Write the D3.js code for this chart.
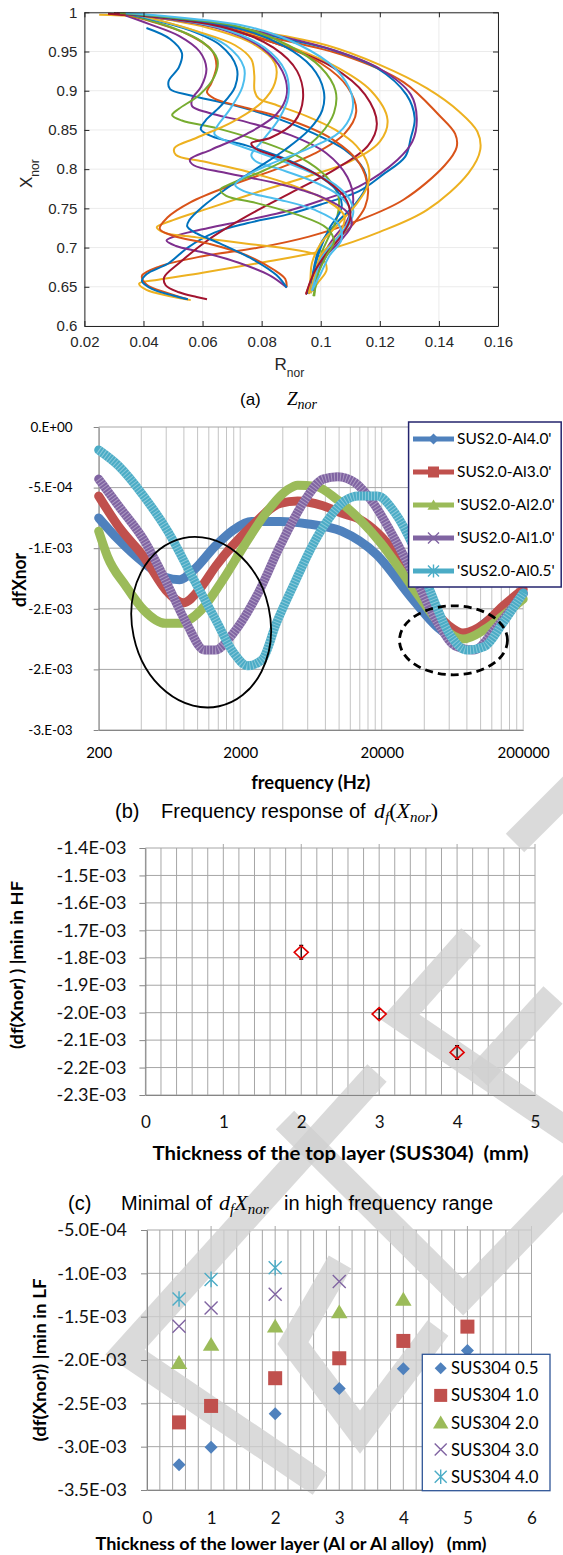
<!DOCTYPE html>
<html>
<head>
<meta charset="utf-8">
<script src="https://cdn.jsdelivr.net/npm/d3@7"></script>
<style>
  body { margin: 0; background: #fff; }
  svg { display: block; }
  text { white-space: pre; }
</style>
</head>
<body>
<script>
// ===== (a) Znor trajectories, points are [Rnor, Xnor] =====
var zY1 = [[0.025,0.997],[0.049,0.992],[0.08,0.975],[0.102,0.958],[0.12,0.933],[0.136,0.903],[0.147,0.873],[0.153,0.848],[0.154,0.825],[0.150,0.795],[0.136,0.748],[0.12,0.72],[0.102,0.697],[0.08,0.681],[0.06,0.668],[0.045,0.659],[0.0385,0.654],[0.041,0.646],[0.049,0.638],[0.056,0.633]];
var zO1 = [[0.028,0.998],[0.055,0.99],[0.079,0.971],[0.107,0.946],[0.128,0.911],[0.14,0.869],[0.1455,0.845],[0.146,0.828],[0.142,0.805],[0.128,0.761],[0.113,0.735],[0.096,0.714],[0.079,0.70],[0.06,0.689],[0.0455,0.676],[0.0395,0.664],[0.041,0.653],[0.048,0.642],[0.055,0.634]];
var zB1 = [[0.030,0.998],[0.06,0.988],[0.087,0.967],[0.104,0.952],[0.119,0.929],[0.129,0.895],[0.1318,0.865],[0.1305,0.84],[0.1286,0.816],[0.121,0.793],[0.113,0.772],[0.1,0.755],[0.0885,0.742],[0.075,0.731],[0.064,0.719],[0.055,0.70],[0.0485,0.68],[0.041,0.666],[0.0395,0.657],[0.043,0.647],[0.05,0.639],[0.055,0.634]];
var zP1 = [[0.031,0.998],[0.06,0.988],[0.088,0.968],[0.105,0.951],[0.12,0.928],[0.1305,0.895],[0.1325,0.865],[0.131,0.835],[0.126,0.812],[0.113,0.778],[0.1,0.76],[0.09,0.748],[0.075,0.735],[0.062,0.725],[0.052,0.716],[0.0478,0.709],[0.051,0.702],[0.06,0.694],[0.072,0.681],[0.083,0.664],[0.0885,0.649]];
var zY2 = [[0.033,0.997],[0.06,0.985],[0.085,0.962],[0.104,0.933],[0.117,0.9],[0.1226,0.863],[0.12,0.835],[0.11,0.81],[0.095,0.79],[0.078,0.77],[0.062,0.75],[0.05,0.735],[0.0445,0.726],[0.047,0.719],[0.058,0.713],[0.075,0.705],[0.09,0.698],[0.1,0.688],[0.102,0.672],[0.099,0.655],[0.0965,0.642]];
var zR2 = [[0.028,0.998],[0.06,0.985],[0.085,0.96],[0.104,0.93],[0.115,0.895],[0.119,0.858],[0.116,0.83],[0.105,0.8],[0.09,0.77],[0.075,0.74],[0.062,0.71],[0.052,0.68],[0.047,0.662],[0.0475,0.652],[0.052,0.643],[0.058,0.637],[0.0615,0.634]];
var zO2 = [[0.032,0.998],[0.06,0.984],[0.085,0.96],[0.1,0.935],[0.109,0.905],[0.112,0.873],[0.108,0.845],[0.098,0.82],[0.085,0.8],[0.07,0.78],[0.056,0.758],[0.048,0.738],[0.0455,0.724],[0.05,0.715],[0.062,0.705],[0.075,0.69],[0.084,0.672],[0.088,0.66],[0.0885,0.65]];
var zB2 = [[0.041,0.98],[0.049,0.966],[0.053,0.948],[0.052,0.93],[0.0485,0.912],[0.049,0.902],[0.056,0.894],[0.07,0.882],[0.085,0.865],[0.098,0.845],[0.108,0.825],[0.1145,0.8],[0.1155,0.78],[0.112,0.757],[0.105,0.73],[0.1,0.705],[0.098,0.68],[0.097,0.66],[0.0955,0.641]];
var zP2 = [[0.034,0.996],[0.042,0.985],[0.052,0.97],[0.059,0.95],[0.0613,0.928],[0.0595,0.905],[0.0565,0.89],[0.0565,0.88],[0.062,0.872],[0.075,0.86],[0.09,0.843],[0.102,0.82],[0.109,0.79],[0.111,0.76],[0.109,0.735],[0.104,0.71],[0.1,0.685],[0.098,0.66],[0.096,0.641]];
var zO3 = [[0.035,0.996],[0.043,0.988],[0.055,0.972],[0.063,0.952],[0.0647,0.932],[0.063,0.91],[0.0615,0.898],[0.064,0.89],[0.075,0.878],[0.09,0.862],[0.104,0.838],[0.113,0.808],[0.116,0.775],[0.115,0.752],[0.111,0.73],[0.105,0.708],[0.1,0.685],[0.097,0.66],[0.095,0.641]];
var zG1 = [[0.033,0.999],[0.05,0.98],[0.06,0.962],[0.065,0.94],[0.064,0.918],[0.059,0.895],[0.052,0.877],[0.0497,0.869],[0.053,0.862],[0.065,0.852],[0.08,0.835],[0.093,0.815],[0.102,0.79],[0.106,0.765],[0.1055,0.738],[0.1025,0.712],[0.1,0.69],[0.099,0.665],[0.0975,0.638]];
var zB3 = [[0.036,0.997],[0.055,0.978],[0.066,0.958],[0.0715,0.93],[0.071,0.905],[0.066,0.88],[0.061,0.862],[0.0594,0.851],[0.063,0.842],[0.075,0.83],[0.09,0.81],[0.1,0.79],[0.106,0.77],[0.107,0.75],[0.103,0.725],[0.1,0.7],[0.098,0.675],[0.0965,0.655],[0.0955,0.641]];
var zC1 = [[0.037,0.997],[0.056,0.978],[0.068,0.958],[0.074,0.93],[0.0735,0.905],[0.069,0.875],[0.065,0.855],[0.064,0.845],[0.068,0.836],[0.08,0.82],[0.094,0.8],[0.105,0.78],[0.11,0.76],[0.111,0.744],[0.108,0.72],[0.103,0.7],[0.1,0.68],[0.098,0.66],[0.0965,0.642]];
var zY3 = [[0.038,0.997],[0.058,0.976],[0.071,0.958],[0.0765,0.94],[0.0775,0.92],[0.0776,0.9],[0.079,0.89],[0.084,0.883],[0.095,0.868],[0.105,0.85],[0.112,0.83],[0.116,0.805],[0.116,0.78],[0.112,0.755],[0.106,0.73],[0.1,0.705],[0.097,0.68],[0.0965,0.66],[0.096,0.641]];
var zY4 = [[0.036,0.998],[0.062,0.98],[0.077,0.96],[0.0845,0.935],[0.0845,0.91],[0.08,0.885],[0.07,0.86],[0.058,0.84],[0.0505,0.827],[0.051,0.818],[0.06,0.81],[0.075,0.797],[0.09,0.78],[0.102,0.76],[0.108,0.74],[0.106,0.715],[0.1,0.69],[0.098,0.665],[0.0965,0.642]];
var zP3 = [[0.031,0.999],[0.065,0.98],[0.08,0.955],[0.087,0.925],[0.0885,0.895],[0.085,0.87],[0.075,0.845],[0.063,0.825],[0.0557,0.812],[0.057,0.805],[0.068,0.795],[0.085,0.782],[0.1,0.765],[0.109,0.745],[0.1105,0.73],[0.107,0.71],[0.102,0.69],[0.099,0.668],[0.0975,0.645]];
var zC2 = [[0.035,0.998],[0.066,0.98],[0.081,0.955],[0.088,0.925],[0.089,0.892],[0.086,0.865],[0.08,0.835],[0.0765,0.818],[0.078,0.81],[0.086,0.8],[0.097,0.785],[0.106,0.767],[0.11,0.748],[0.1085,0.727],[0.104,0.705],[0.1,0.685],[0.0985,0.665],[0.097,0.645]];
var zR3 = [[0.030,0.999],[0.068,0.98],[0.084,0.955],[0.092,0.925],[0.094,0.89],[0.091,0.86],[0.083,0.84],[0.0765,0.833],[0.078,0.826],[0.088,0.812],[0.1,0.79],[0.108,0.765],[0.11,0.738],[0.107,0.715],[0.102,0.693],[0.098,0.67],[0.096,0.652],[0.095,0.64]];
var zB4 = [[0.034,0.998],[0.07,0.982],[0.087,0.958],[0.097,0.93],[0.101,0.9],[0.1005,0.875],[0.096,0.85],[0.088,0.825],[0.078,0.8],[0.068,0.775],[0.06,0.752],[0.0555,0.735],[0.0548,0.727],[0.058,0.718],[0.066,0.705],[0.077,0.685],[0.085,0.665],[0.0885,0.649]];
var zG2 = [[0.032,0.999],[0.072,0.982],[0.089,0.958],[0.1,0.93],[0.105,0.9],[0.1045,0.872],[0.1,0.845],[0.092,0.82],[0.08,0.797],[0.07,0.782],[0.066,0.774],[0.068,0.766],[0.078,0.757],[0.092,0.742],[0.102,0.725],[0.1045,0.708],[0.102,0.69],[0.099,0.665],[0.0978,0.638]];
var zC3 = [[0.034,0.999],[0.075,0.982],[0.093,0.958],[0.105,0.928],[0.1105,0.895],[0.1105,0.872],[0.106,0.846],[0.095,0.825],[0.082,0.805],[0.074,0.79],[0.071,0.78],[0.074,0.772],[0.085,0.762],[0.098,0.748],[0.106,0.73],[0.107,0.71],[0.103,0.69],[0.1,0.667],[0.097,0.645]];

var mBlue = "#0072BD", mOrange = "#D95319", mYellow = "#EDB120", mPurple = "#7E2F8E",
    mGreen = "#77AC30", mCyan = "#4DBEEE", mRed = "#A2142F";
var aCurves = [[zY1,mYellow],[zO1,mOrange],[zB1,mBlue],[zP1,mPurple],[zY2,mYellow],[zR2,mRed],
  [zO2,mOrange],[zB2,mBlue],[zP2,mPurple],[zO3,mOrange],[zG1,mGreen],[zB3,mBlue],[zC1,mCyan],
  [zY3,mYellow],[zY4,mYellow],[zP3,mPurple],[zC2,mCyan],[zR3,mRed],[zB4,mBlue],[zG2,mGreen],[zC3,mCyan]];
var aXTicks = [0.02,0.04,0.06,0.08,0.1,0.12,0.14,0.16];
var aXLabels = ["0.02","0.04","0.06","0.08","0.1","0.12","0.14","0.16"];
var aYTicks = [0.6,0.65,0.7,0.75,0.8,0.85,0.9,0.95,1];
var aYLabels = ["0.6","0.65","0.7","0.75","0.8","0.85","0.9","0.95","1"];

// ===== (b) df(Xnor) vs frequency, [Hz, value in 1e-3] =====
var bNames = ["SUS2.0-Al4.0'","SUS2.0-Al3.0'","'SUS2.0-Al2.0'","'SUS2.0-Al1.0'","'SUS2.0-Al0.5'"];
var bColors = ["#4F81BD","#C0504D","#9BBB59","#8064A2","#4BACC6"];
var bMarks = ["diamond","square","triangle","x","star"];
var bAl40 = [[200,-0.75],[276,-0.93],[416,-1.12],[590,-1.24],[746,-1.26],[940,-1.18],[1340,-0.98],[1790,-0.85],[2400,-0.78],[3820,-0.78],[6050,-0.80],[10400,-0.86],[18300,-1.05],[33000,-1.42],[53000,-1.68],[75000,-1.74],[112000,-1.6],[200000,-1.38]];
var bAl30 = [[200,-0.57],[276,-0.82],[416,-1.07],[623,-1.37],[790,-1.45],[1060,-1.32],[1340,-1.15],[2400,-0.82],[3830,-0.63],[5100,-0.61],[7700,-0.65],[10400,-0.71],[13900,-0.76],[18600,-0.87],[24900,-1.04],[33300,-1.26],[44600,-1.48],[59700,-1.64],[75000,-1.70],[107000,-1.62],[143000,-1.48],[200000,-1.34]];
var bAl20 = [[200,-0.86],[231,-1.07],[310,-1.31],[416,-1.51],[590,-1.62],[746,-1.62],[1060,-1.51],[1510,-1.26],[2130,-0.98],[3040,-0.71],[4300,-0.52],[5100,-0.48],[6850,-0.49],[9700,-0.60],[13900,-0.76],[19800,-0.96],[27900,-1.20],[39600,-1.45],[56000,-1.67],[75000,-1.75],[107000,-1.67],[143000,-1.56],[200000,-1.42]];
var bAl10 = [[200,-0.43],[276,-0.65],[416,-0.93],[590,-1.26],[835,-1.62],[1120,-1.84],[1330,-1.84],[1790,-1.70],[2680,-1.37],[3830,-0.98],[5760,-0.60],[7700,-0.43],[9750,-0.41],[13000,-0.46],[17500,-0.63],[24900,-0.93],[35000,-1.26],[50000,-1.62],[67000,-1.81],[90000,-1.84],[126000,-1.67],[200000,-1.37]];
var bAl05 = [[200,-0.19],[276,-0.32],[416,-0.57],[623,-0.87],[940,-1.26],[1340,-1.59],[1790,-1.86],[2260,-1.97],[2860,-1.92],[3600,-1.62],[4830,-1.29],[6460,-0.98],[8640,-0.74],[10900,-0.61],[13800,-0.57],[18600,-0.57],[24900,-0.71],[33300,-0.98],[44600,-1.37],[59700,-1.70],[80000,-1.84],[107000,-1.81],[143000,-1.62],[200000,-1.37]];
var bSeries = [bAl40, bAl30, bAl20, bAl10, bAl05];
var bYTicks = [0,-0.5,-1,-1.5,-2,-2.5];
var bYLabels = ["0.E+00","-5.E-04","-1.E-03","-2.E-03","-2.E-03","-3.E-03"];
var bXTicks = [200,2000,20000,200000];
// annotation ellipses: centre [Hz, value 1e-3]
var bLowCentre = [1060,-1.61];
var bHighCentre = [64300,-1.76];

// ===== (c) minimum in HF vs top layer thickness =====
var cThick = [2,3,4];
var cMin = [-1.78,-2.005,-2.145];
var cErr = [0.025,0.018,0.025];
var cYTicks = [-1.4,-1.5,-1.6,-1.7,-1.8,-1.9,-2.0,-2.1,-2.2,-2.3];
var cYLabels = ["-1.4E-03","-1.5E-03","-1.6E-03","-1.7E-03","-1.8E-03","-1.9E-03","-2.0E-03","-2.1E-03","-2.2E-03","-2.3E-03"];
var cXTicks = [0,1,2,3,4,5];

// ===== (d) minimum in LF vs lower layer thickness =====
var dNames = ["SUS304 0.5","SUS304 1.0","SUS304 2.0","SUS304 3.0","SUS304 4.0"];
var dColors = ["#4F81BD","#C0504D","#9BBB59","#8064A2","#4BACC6"];
var dMarks = ["diamond","square","triangle","x","star"];
var dAl = [0.5,1,2,3,4,5];
var dSus05 = [-3.21,-3.007,-2.62,-2.33,-2.10,-1.89];
var dSus10 = [-2.72,-2.53,-2.21,-1.98,-1.78,-1.615];
var dSus20 = [-2.03,-1.82,-1.61,-1.445,-1.30];
var dSus30 = [-1.61,-1.40,-1.24,-1.095];
var dSus40 = [-1.296,-1.07,-0.935];
var dSeries = [dSus05, dSus10, dSus20, dSus30, dSus40];
var dYTicks = [-0.5,-1,-1.5,-2,-2.5,-3,-3.5];
var dYLabels = ["-5.0E-04","-1.0E-03","-1.5E-03","-2.0E-03","-2.5E-03","-3.0E-03","-3.5E-03"];
var dXTicks = [0,1,2,3,4,5,6];

// watermark stripes (page pixels)
var wmStripes = [
  [[471,937],[400,1017],[600,1153]],
  [[553,995],[478,1077]],
  [[515,843],[600,758]],
  [[377,1073],[125,1352],[320,1484]],
  [[340,1262],[293,1343],[360,1432],[438,1328]],
  [[285,1120],[463,1297],[600,1155]]
];

var FA = "'Liberation Sans', Arial, sans-serif";
var FL = "Lato, 'Open Sans', sans-serif";
var FS = "'Liberation Serif', 'DejaVu Serif', serif";

var svg = d3.select("body").append("svg").attr("width", 563).attr("height", 1555);
svg.append("rect").attr("width", 563).attr("height", 1555).attr("fill", "#fff");
var layerGrid = svg.append("g");
var layerWM = svg.append("g");
var layerTop = svg.append("g");

function marker(g, type, x, y, s, color) {
  if (type === "diamond") {
    g.append("path").attr("d", `M${x},${y-s}L${x+s},${y}L${x},${y+s}L${x-s},${y}Z`).attr("fill", color);
  } else if (type === "square") {
    g.append("rect").attr("x", x-s).attr("y", y-s).attr("width", 2*s).attr("height", 2*s).attr("fill", color);
  } else if (type === "triangle") {
    g.append("path").attr("d", `M${x},${y-s}L${x+s*1.1},${y+s*0.85}L${x-s*1.1},${y+s*0.85}Z`).attr("fill", color);
  } else {
    var d = `M${x-s},${y-s}L${x+s},${y+s}M${x-s},${y+s}L${x+s},${y-s}`;
    if (type === "star") d += `M${x},${y-s*1.2}L${x},${y+s*1.2}`;
    g.append("path").attr("d", d).attr("fill", "none").attr("stroke", color).attr("stroke-width", 1.4);
  }
}

// ================= panel (a) =================
var xA = d3.scaleLinear().domain([0.02, 0.16]).range([84.4, 498]);
var yA = d3.scaleLinear().domain([0.6, 1]).range([326, 12.3]);
var gA = layerTop.append("g");

gA.selectAll(".gx").data(aXTicks).join("line")
  .attr("x1", d => xA(d)).attr("x2", d => xA(d)).attr("y1", yA(0.6)).attr("y2", yA(1))
  .attr("stroke", "#ebebeb");
gA.selectAll(".gy").data(aYTicks).join("line")
  .attr("x1", xA(0.02)).attr("x2", xA(0.16)).attr("y1", d => yA(d)).attr("y2", d => yA(d))
  .attr("stroke", "#ebebeb");

var lineA = d3.line().x(d => xA(d[0])).y(d => yA(d[1])).curve(d3.curveCatmullRom.alpha(0.5));
aCurves.forEach(function(c) {
  gA.append("path").attr("d", lineA(c[0])).attr("fill", "none")
    .attr("stroke", c[1]).attr("stroke-width", 2).attr("stroke-linejoin", "round");
});

function styleA(sel) {
  sel.select(".domain").attr("stroke", "#262626");
  sel.selectAll(".tick line").attr("stroke", "#262626");
  sel.selectAll("text").attr("font-family", FA).attr("font-size", 15).attr("fill", "#262626");
}
gA.append("g").attr("transform", `translate(0,${yA(0.6)})`)
  .call(d3.axisBottom(xA).tickValues(aXTicks).tickFormat((d, i) => aXLabels[i]).tickSize(-5).tickSizeOuter(0).tickPadding(10))
  .call(styleA);
gA.append("g").attr("transform", `translate(0,${yA(1)})`)
  .call(d3.axisTop(xA).tickValues(aXTicks).tickFormat("").tickSize(-5).tickSizeOuter(0))
  .call(styleA);
gA.append("g").attr("transform", `translate(${xA(0.02)},0)`)
  .call(d3.axisLeft(yA).tickValues(aYTicks).tickFormat((d, i) => aYLabels[i]).tickSize(-5).tickSizeOuter(0).tickPadding(7))
  .call(styleA);
gA.append("g").attr("transform", `translate(${xA(0.16)},0)`)
  .call(d3.axisRight(yA).tickValues(aYTicks).tickFormat("").tickSize(-5).tickSizeOuter(0))
  .call(styleA);

var rLab = gA.append("text").attr("x", 274.5).attr("y", 370).attr("font-family", FA)
  .attr("font-size", 17).attr("fill", "#262626");
rLab.append("tspan").text("R");
rLab.append("tspan").attr("font-size", 12).attr("dy", 7).text("nor");
var xLab = gA.append("text").attr("transform", "translate(31.5,188) rotate(-90)")
  .attr("font-family", FA).attr("font-size", 17).attr("fill", "#262626");
xLab.append("tspan").text("X");
xLab.append("tspan").attr("font-size", 12).attr("dy", 7).text("nor");

var capA = gA.append("text").attr("y", 405).attr("font-size", 17).attr("fill", "#000");
capA.append("tspan").attr("x", 240).attr("font-family", FA).text("(a)");
capA.append("tspan").attr("x", 287).attr("font-family", FS).attr("font-style", "italic").attr("font-size", 19).text("Z");
capA.append("tspan").attr("font-family", FS).attr("font-style", "italic").attr("font-size", 14).attr("dy", 4).text("nor");

// ================= panel (b) =================
var xB = d3.scaleLog().domain([200, 200000]).range([98.7, 523.2]);
var yB = d3.scaleLinear().domain([-2.5, 0]).range([730, 427]);
var gB = layerTop.append("g");

var bGrid = [];
[200, 2000, 20000].forEach(function(dec) { for (var k = 1; k < 10; k++) bGrid.push(dec * k); });
bGrid.push(200000);
gB.selectAll(".vg").data(bGrid).join("line")
  .attr("x1", d => xB(d)).attr("x2", d => xB(d)).attr("y1", yB(0)).attr("y2", yB(-2.5))
  .attr("stroke", "#c4c4c4");
gB.selectAll(".hg").data(bYTicks).join("line")
  .attr("x1", xB(200)).attr("x2", xB(200000)).attr("y1", d => yB(d)).attr("y2", d => yB(d))
  .attr("stroke", "#a6a6a6");

gB.append("g").attr("transform", `translate(${xB(200)},0)`)
  .call(d3.axisLeft(yB).tickValues(bYTicks).tickFormat((d, i) => bYLabels[i]).tickSize(5).tickSizeOuter(0).tickPadding(21))
  .call(function(s) {
    s.select(".domain").attr("stroke", "#868686");
    s.selectAll(".tick line").attr("stroke", "#868686");
    s.selectAll("text").attr("font-family", FL).attr("font-size", 13.5).attr("fill", "#000");
  });
gB.append("g").attr("transform", `translate(0,${yB(-2.5)})`)
  .call(d3.axisBottom(xB).tickValues(bXTicks).tickFormat(d3.format("d")).tickSize(0).tickSizeOuter(0).tickPadding(17))
  .call(function(s) {
    s.select(".domain").attr("stroke", "#868686");
    s.selectAll("text").attr("font-family", FL).attr("font-size", 15).attr("fill", "#000");
  });

var lineB = d3.line().x(d => xB(d[0])).y(d => yB(d[1])).curve(d3.curveMonotoneX);
bSeries.forEach(function(s, i) {
  gB.append("path").attr("d", lineB(s)).attr("fill", "none").attr("stroke", bColors[i])
    .attr("stroke-width", 9).attr("stroke-linejoin", "round").attr("stroke-linecap", "round");
  if (i >= 3) {
    gB.append("path").attr("d", lineB(s)).attr("fill", "none").attr("stroke", "#fff")
      .attr("stroke-opacity", 0.35).attr("stroke-width", 9).attr("stroke-dasharray", "1,2");
  }
});

gB.append("ellipse").attr("cx", xB(bLowCentre[0])).attr("cy", yB(bLowCentre[1]))
  .attr("rx", 69).attr("ry", 86)
  .attr("transform", `rotate(-12,${xB(bLowCentre[0])},${yB(bLowCentre[1])})`)
  .attr("fill", "none").attr("stroke", "#000").attr("stroke-width", 1.8);
gB.append("ellipse").attr("cx", xB(bHighCentre[0])).attr("cy", yB(bHighCentre[1]))
  .attr("rx", 54).attr("ry", 34.5)
  .attr("fill", "none").attr("stroke", "#000").attr("stroke-width", 2.8).attr("stroke-dasharray", "8,5");

// legend (b)
var legB = gB.append("g");
legB.append("rect").attr("x", 408.6).attr("y", 422).attr("width", 152.6).attr("height", 165)
  .attr("fill", "#fff").attr("stroke", "#24246e").attr("stroke-width", 1.5);
bNames.forEach(function(n, i) {
  var ly = 439 + i * 33;
  legB.append("line").attr("x1", 413).attr("x2", 454).attr("y1", ly).attr("y2", ly)
    .attr("stroke", bColors[i]).attr("stroke-width", 5);
  marker(legB, bMarks[i], 433.5, ly, 5.5, bColors[i]);
  legB.append("text").attr("x", 457).attr("y", ly).attr("dy", "0.35em")
    .attr("font-family", FL).attr("font-size", 15.5).attr("fill", "#000").text(n);
});

gB.append("text").attr("transform", "translate(26,580) rotate(-90)").attr("text-anchor", "middle")
  .attr("font-family", FL).attr("font-weight", "bold").attr("font-size", 18).attr("fill", "#000")
  .attr("textLength", 54).attr("lengthAdjust", "spacingAndGlyphs")
  .text("dfXnor");
gB.append("text").attr("x", 310.7).attr("y", 789).attr("text-anchor", "middle")
  .attr("font-family", FL).attr("font-weight", "bold").attr("font-size", 18).attr("fill", "#000")
  .attr("textLength", 119).attr("lengthAdjust", "spacingAndGlyphs")
  .text("frequency (Hz)");

var capB = gB.append("text").attr("y", 818).attr("font-size", 20).attr("fill", "#000");
capB.append("tspan").attr("x", 115).attr("font-family", FA).text("(b)");
capB.append("tspan").attr("x", 161).attr("font-family", FA).text("Frequency response of");
capB.append("tspan").attr("x", 374).attr("font-family", FS).attr("font-style", "italic").attr("font-size", 22).text("d");
capB.append("tspan").attr("font-family", FS).attr("font-style", "italic").attr("font-size", 15).attr("dy", 4).text("f");
capB.append("tspan").attr("font-family", FS).attr("font-size", 22).attr("dy", -4).text("(");
capB.append("tspan").attr("font-family", FS).attr("font-style", "italic").attr("font-size", 22).text("X");
capB.append("tspan").attr("font-family", FS).attr("font-style", "italic").attr("font-size", 15).attr("dy", 4).text("nor");
capB.append("tspan").attr("font-family", FS).attr("font-size", 22).attr("dy", -4).text(")");

// ================= panel (c) =================
var xC = d3.scaleLinear().domain([0, 5]).range([145.4, 535]);
var yC = d3.scaleLinear().domain([-2.3, -1.4]).range([1095, 848]);
var cMinor = d3.range(0, 26).map(i => i * 0.2);
layerGrid.selectAll(".cvg").data(cMinor).join("line")
  .attr("x1", d => xC(d)).attr("x2", d => xC(d)).attr("y1", yC(-1.4)).attr("y2", yC(-2.3))
  .attr("stroke", "#a6a6a6");
layerGrid.selectAll(".chg").data(cYTicks).join("line")
  .attr("x1", xC(0)).attr("x2", xC(5)).attr("y1", d => yC(d)).attr("y2", d => yC(d))
  .attr("stroke", "#a6a6a6");
layerGrid.selectAll(".ctk").data(cXTicks.slice(1)).join("line")
  .attr("x1", d => xC(d)).attr("x2", d => xC(d)).attr("y1", yC(-1.4) - 4).attr("y2", yC(-1.4))
  .attr("stroke", "#a6a6a6");

var gC = layerTop.append("g");
gC.append("g").attr("transform", `translate(${xC(0)},0)`)
  .call(d3.axisLeft(yC).tickValues(cYTicks).tickFormat((d, i) => cYLabels[i]).tickSize(6).tickSizeOuter(0).tickPadding(13))
  .call(function(s) {
    s.select(".domain").attr("stroke", "#868686");
    s.selectAll(".tick line").attr("stroke", "#868686");
    s.selectAll("text").attr("font-family", FL).attr("font-size", 18).attr("fill", "#111");
  });
gC.append("g").attr("transform", `translate(0,${yC(-2.3)})`)
  .call(d3.axisBottom(xC).tickValues(cXTicks).tickFormat(d3.format("d")).tickSize(0).tickSizeOuter(0).tickPadding(21))
  .call(function(s) {
    s.select(".domain").attr("stroke", "#868686");
    s.selectAll("text").attr("font-family", FL).attr("font-size", 17).attr("fill", "#111");
  });

cThick.forEach(function(t, i) {
  var x = xC(t), y = yC(cMin[i]);
  var y1 = yC(cMin[i] + cErr[i]), y2 = yC(cMin[i] - cErr[i]);
  gC.append("path").attr("d", `M${x},${y1}L${x},${y2}M${x-2},${y1}L${x+2},${y1}M${x-2},${y2}L${x+2},${y2}`)
    .attr("stroke", "#000").attr("stroke-width", 1.2).attr("fill", "none");
  gC.append("path").attr("d", `M${x},${y-6.5}L${x+7},${y}L${x},${y+6.5}L${x-7},${y}Z`)
    .attr("fill", "none").attr("stroke", "#e00000").attr("stroke-width", 1.6);
});

gC.append("text").attr("transform", "translate(23,965) rotate(-90)").attr("text-anchor", "middle")
  .attr("font-family", FL).attr("font-weight", "bold").attr("font-size", 17).attr("fill", "#000")
  .attr("textLength", 168).attr("lengthAdjust", "spacingAndGlyphs")
  .text("(df(Xnor) ) |min in HF");
gC.append("text").attr("x", 340.5).attr("y", 1160).attr("text-anchor", "middle")
  .attr("font-family", FL).attr("font-weight", "bold").attr("font-size", 18).attr("fill", "#000")
  .attr("textLength", 376).attr("lengthAdjust", "spacingAndGlyphs")
  .text("Thickness of the top layer (SUS304)  (mm)");

var capC = gC.append("text").attr("y", 1210).attr("font-size", 20).attr("fill", "#000");
capC.append("tspan").attr("x", 68).attr("font-family", FA).text("(c)");
capC.append("tspan").attr("x", 121).attr("font-family", FA).text("Minimal of");
capC.append("tspan").attr("x", 219).attr("font-family", FS).attr("font-style", "italic").attr("font-size", 22).text("d");
capC.append("tspan").attr("font-family", FS).attr("font-style", "italic").attr("font-size", 15).attr("dy", 4).text("f");
capC.append("tspan").attr("font-family", FS).attr("font-style", "italic").attr("font-size", 22).attr("dy", -4).text("X");
capC.append("tspan").attr("font-family", FS).attr("font-style", "italic").attr("font-size", 15).attr("dy", 4).text("nor");
capC.append("tspan").attr("x", 284).attr("dy", -4).attr("font-family", FA).text("in high frequency range");

// ================= panel (d) =================
var xD = d3.scaleLinear().domain([0, 6]).range([147, 531.5]);
var yD = d3.scaleLinear().domain([-3.5, -0.5]).range([1490, 1230]);
var dMinor = d3.range(0, 31).map(i => i * 0.2);
layerGrid.selectAll(".dvg").data(dMinor).join("line")
  .attr("x1", d => xD(d)).attr("x2", d => xD(d)).attr("y1", yD(-0.5)).attr("y2", yD(-3.5))
  .attr("stroke", "#a6a6a6");
layerGrid.selectAll(".dhg").data(dYTicks).join("line")
  .attr("x1", xD(0)).attr("x2", xD(6)).attr("y1", d => yD(d)).attr("y2", d => yD(d))
  .attr("stroke", "#a6a6a6");
layerGrid.selectAll(".dtk").data(dXTicks.slice(1)).join("line")
  .attr("x1", d => xD(d)).attr("x2", d => xD(d)).attr("y1", yD(-0.5) - 4).attr("y2", yD(-0.5))
  .attr("stroke", "#a6a6a6");

// watermark (drawn over the grids, under marks and text)
wmStripes.forEach(function(p) {
  layerWM.append("path").attr("d", d3.line()(p)).attr("fill", "none")
    .attr("stroke", "#cfcfcf").attr("stroke-opacity", 0.78).attr("stroke-width", 26)
    .attr("stroke-linejoin", "miter").attr("stroke-linecap", "butt");
});

var gD = layerTop.append("g");
gD.append("g").attr("transform", `translate(${xD(0)},0)`)
  .call(d3.axisLeft(yD).tickValues(dYTicks).tickFormat((d, i) => dYLabels[i]).tickSize(6).tickSizeOuter(0).tickPadding(14))
  .call(function(s) {
    s.select(".domain").attr("stroke", "#868686");
    s.selectAll(".tick line").attr("stroke", "#868686");
    s.selectAll("text").attr("font-family", FL).attr("font-size", 18).attr("fill", "#111");
  });
gD.append("g").attr("transform", `translate(0,${yD(-3.5)})`)
  .call(d3.axisBottom(xD).tickValues(dXTicks).tickFormat(d3.format("d")).tickSize(0).tickSizeOuter(0).tickPadding(22))
  .call(function(s) {
    s.select(".domain").attr("stroke", "#868686");
    s.selectAll("text").attr("font-family", FL).attr("font-size", 17).attr("fill", "#111");
  });

dSeries.forEach(function(vals, si) {
  vals.forEach(function(v, i) {
    var size = dMarks[si] === "square" ? 7 : (dMarks[si] === "triangle" ? 7.5 : 6.5);
    marker(gD, dMarks[si], xD(dAl[i]), yD(v), size, dColors[si]);
  });
});

var legD = gD.append("g");
legD.append("rect").attr("x", 422.3).attr("y", 1354.3).attr("width", 127.7).attr("height", 136.4)
  .attr("fill", "#fff").attr("stroke", "#2f5597").attr("stroke-width", 1.3);
dNames.forEach(function(n, i) {
  var ly = 1368.3 + i * 27.1;
  var size = dMarks[i] === "square" ? 6.5 : (dMarks[i] === "triangle" ? 7 : 6);
  marker(legD, dMarks[i], 440.7, ly, size, dColors[i]);
  legD.append("text").attr("x", 451).attr("y", ly).attr("dy", "0.36em")
    .attr("font-family", FL).attr("font-size", 16.8).attr("fill", "#000").text(n);
});

gD.append("text").attr("transform", "translate(46,1360) rotate(-90)").attr("text-anchor", "middle")
  .attr("font-family", FL).attr("font-weight", "bold").attr("font-size", 16.5).attr("fill", "#000")
  .attr("textLength", 163).attr("lengthAdjust", "spacingAndGlyphs")
  .text("(df(Xnor)) |min in LF");
gD.append("text").attr("x", 291).attr("y", 1550).attr("text-anchor", "middle")
  .attr("font-family", FL).attr("font-weight", "bold").attr("font-size", 16.5).attr("fill", "#000")
  .attr("textLength", 391).attr("lengthAdjust", "spacingAndGlyphs")
  .text("Thickness of the lower layer (Al or Al alloy)   (mm)");
</script>
</body>
</html>
